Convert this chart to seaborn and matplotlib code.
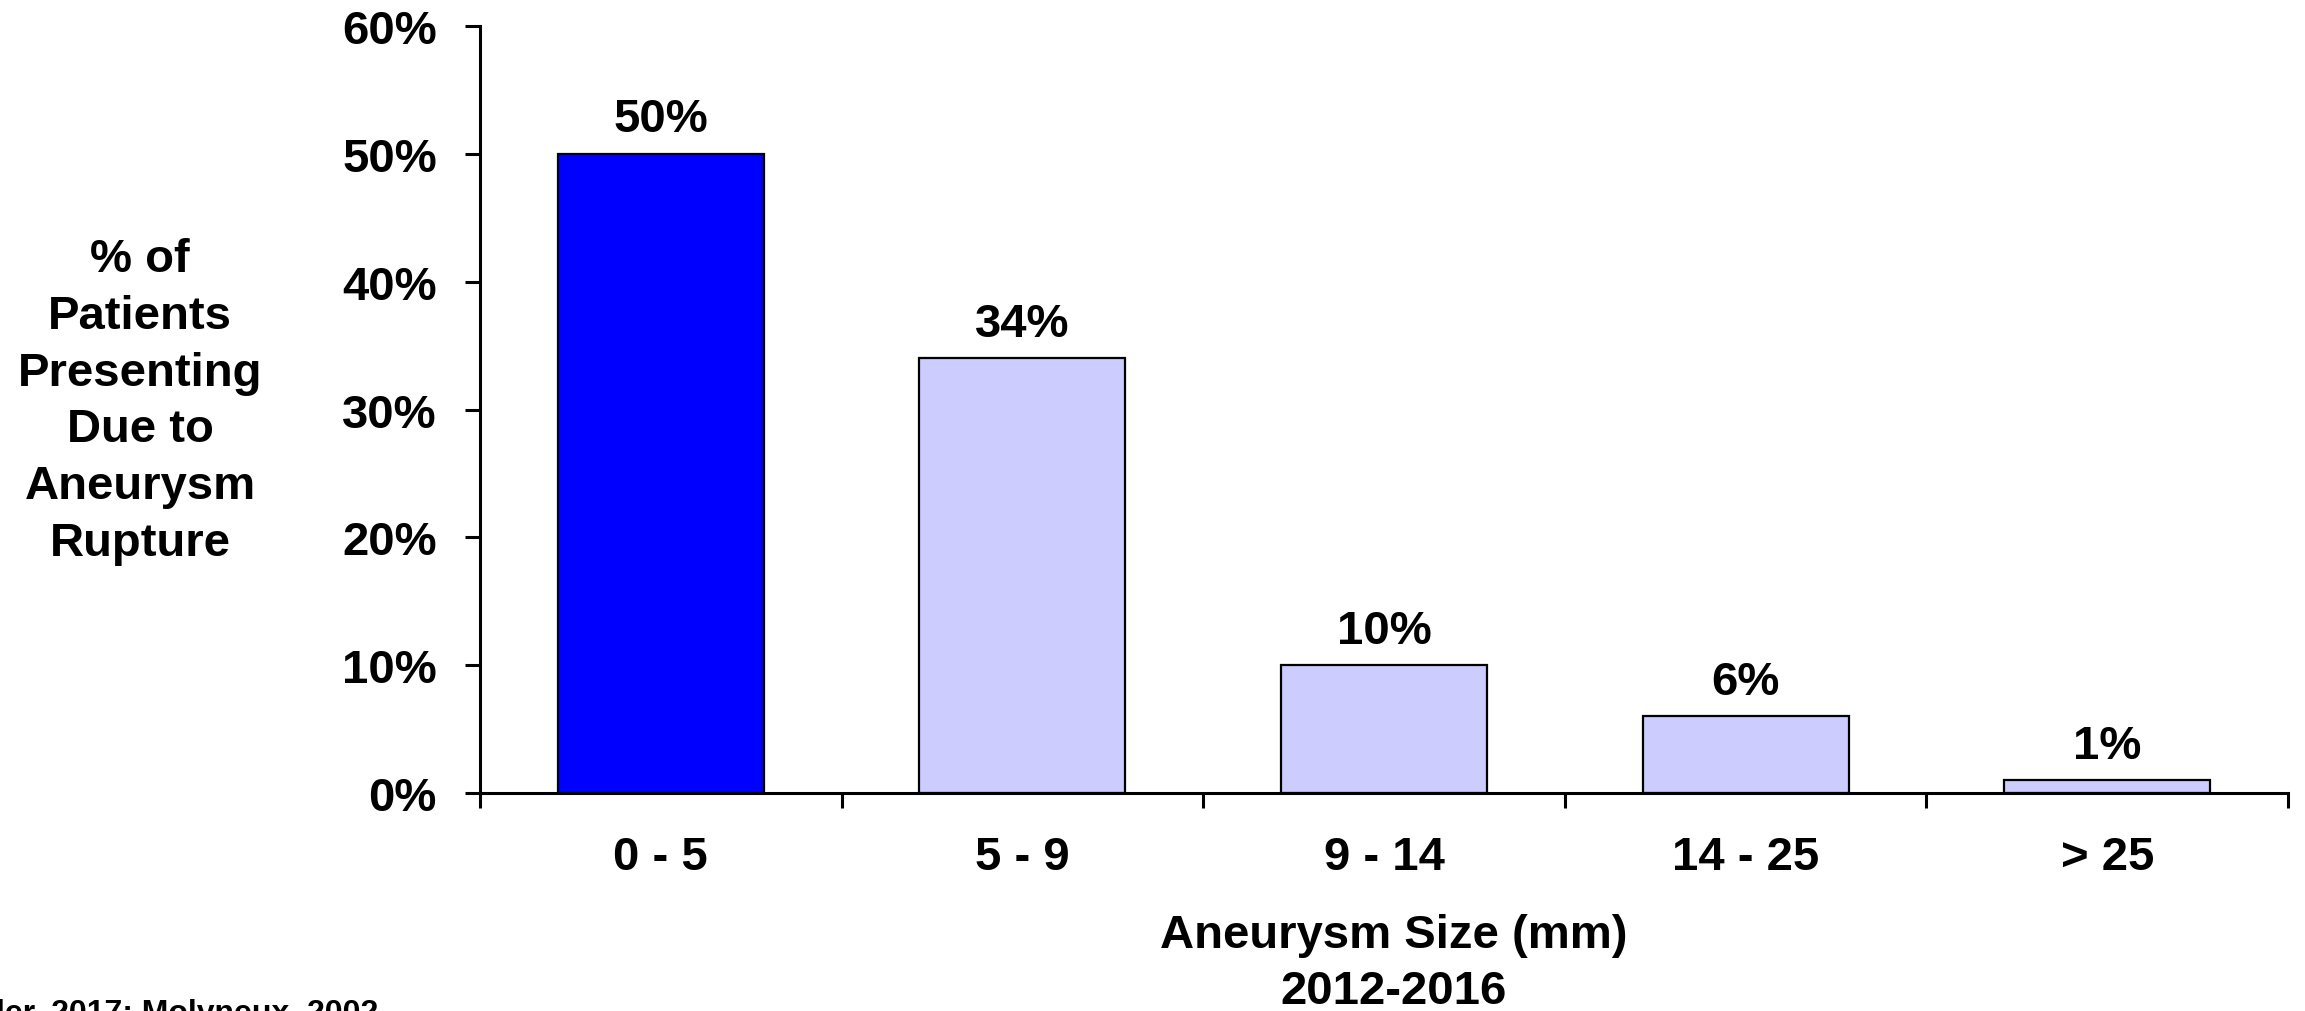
import numpy as np
import pandas as pd
import matplotlib
matplotlib.use('Agg')
import matplotlib.pyplot as plt
import seaborn as sns

# data
sizes = ['0 - 5', '5 - 9', '9 - 14', '14 - 25', '> 25']
pct_rupture = [50, 34, 10, 6, 1]
bar_colors = ['#0000FF', '#CCCCFF', '#CCCCFF', '#CCCCFF', '#CCCCFF']
y_ticks = [0, 10, 20, 30, 40, 50, 60]

sns.set_style('white')
plt.rcParams['font.family'] = ['Liberation Sans', 'DejaVu Sans']
plt.rcParams['font.weight'] = 'bold'
plt.rcParams['text.color'] = 'black'
plt.rcParams['xtick.color'] = 'black'
plt.rcParams['ytick.color'] = 'black'
plt.rcParams['axes.labelcolor'] = 'black'

df = pd.DataFrame({'size': sizes, 'pct': pct_rupture})

fig = plt.figure(figsize=(23.05, 10.12), dpi=100)
ax = fig.add_axes([480 / 2305, 218 / 1012, (2288 - 480) / 2305, (794 - 27) / 1012])

sns.barplot(data=df, x='size', y='pct', hue='size', palette=bar_colors,
            legend=False, width=0.57, edgecolor='black', linewidth=1.6,
            saturation=1, ax=ax)

for cont in ax.containers:
    ax.bar_label(cont, fmt='%g%%', padding=9, fontsize=34, fontweight='bold',
                 color='black')

ax.set_ylim(0, 60)
ax.set_xlim(-0.5, 4.5)
ax.set_yticks(y_ticks)
ax.set_yticklabels([f'{v}%' for v in y_ticks], fontsize=34, fontweight='bold')

# category labels centred, ticks on the boundaries
ax.set_xticks(np.arange(len(sizes)))
ax.set_xticklabels(sizes, fontsize=34, fontweight='bold')
ax.set_xticks(np.arange(len(sizes) + 1) - 0.5, minor=True)
ax.tick_params(axis='x', which='major', length=0, pad=30)
ax.tick_params(axis='x', which='minor', length=11, width=2.2, direction='out',
               bottom=True, color='black')
ax.tick_params(axis='y', which='major', length=11, width=2.2, direction='out',
               left=True, pad=20, color='black')

for s in ['top', 'right']:
    ax.spines[s].set_visible(False)
for s in ['left', 'bottom']:
    ax.spines[s].set_linewidth(2.2)
    ax.spines[s].set_color('black')

ax.set_xlabel('')
ax.set_ylabel('')

fig.text(140 / 2305, 1 - 402 / 1012,
         '% of\nPatients\nPresenting\nDue to\nAneurysm\nRupture',
         ha='center', va='center', multialignment='center', linespacing=1.38,
         fontsize=34, fontweight='bold')

fig.text(1394 / 2305, 1 - 964 / 1012, 'Aneurysm Size (mm)\n2012-2016',
         ha='center', va='center', multialignment='center', linespacing=1.38,
         fontsize=34, fontweight='bold')

fig.text(-4 / 2305, 1 - 999 / 1012, 'ler, 2017; Molyneux, 2002',
         ha='left', va='top', fontsize=23, fontweight='bold')

fig.savefig('out.png', dpi=100)
